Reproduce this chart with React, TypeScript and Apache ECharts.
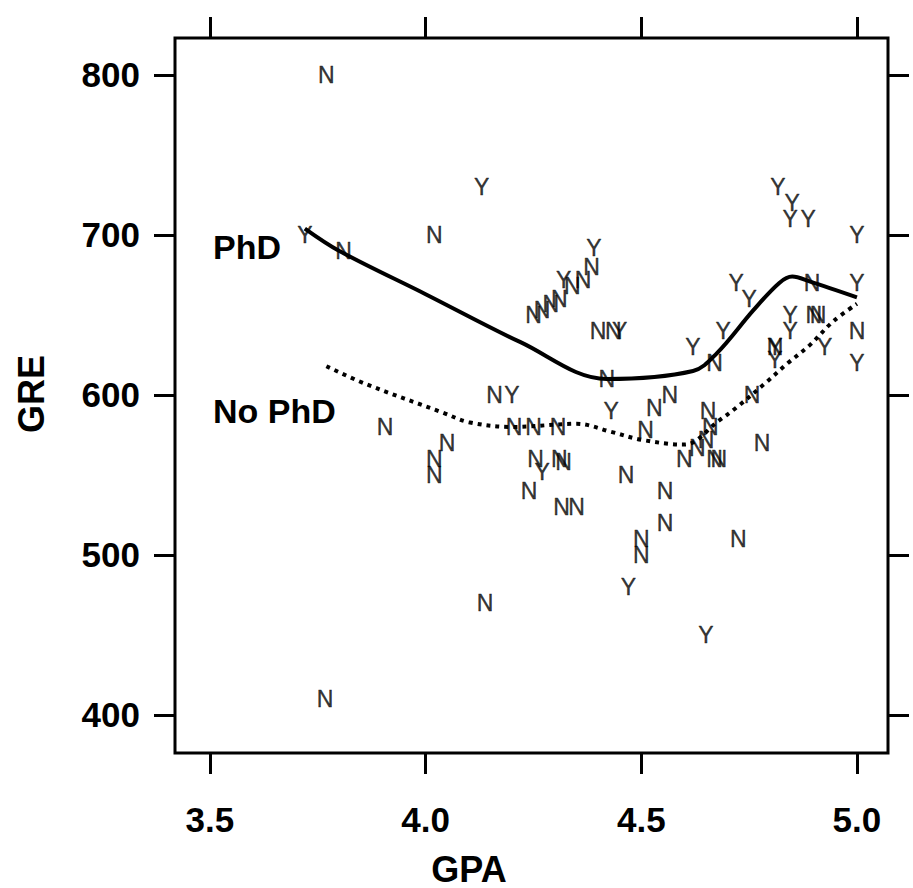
import React, { useEffect, useRef } from "react";
import * as echarts from "echarts";

// Axis ticks
const gpaTicks = [3.5, 4.0, 4.5, 5.0];
const greTicks = [400, 500, 600, 700, 800];

// Students who went on to a PhD ("Y")
const phdGpa = [3.72, 4.13, 4.32, 4.39, 4.45, 4.2, 4.27, 4.43, 4.47, 4.65, 4.62, 4.69, 4.72, 4.75, 4.817, 4.85, 4.845, 4.887, 5.0, 5.0, 4.845, 4.845, 4.925, 5.0, 4.81, 4.81];
const phdGre = [700, 730, 672, 692, 640, 600, 552, 590, 480, 450, 630, 640, 670, 660, 730, 720, 710, 710, 700, 670, 650, 640, 630, 620, 630, 622];

// Students who did not ("N")
const noPhdGpa = [3.77, 3.81, 4.02, 4.25, 4.27, 4.29, 4.31, 4.34, 4.365, 4.385, 4.4, 4.435, 4.42, 4.16, 4.205, 4.25, 4.307, 4.255, 4.31, 4.32, 4.24, 4.315, 4.35, 4.465, 4.5, 4.5, 4.555, 4.555, 4.51, 4.53, 4.566, 4.655, 4.66, 4.65, 4.63, 4.6, 4.67, 4.68, 4.78, 4.757, 4.725, 4.67, 4.81, 4.896, 4.9, 4.91, 5.0, 3.906, 4.02, 4.02, 4.05, 4.138, 3.767];
const noPhdGre = [800, 690, 700, 650, 653, 657, 660, 668, 672, 680, 640, 640, 610, 600, 580, 580, 580, 560, 560, 558, 540, 530, 530, 550, 510, 500, 540, 520, 578, 592, 600, 590, 580, 572, 567, 560, 560, 560, 570, 600, 510, 620, 630, 670, 650, 650, 640, 580, 560, 550, 570, 470, 410];

// Smooth curves
const phdCurveGpa = [3.72, 3.8, 4.0, 4.22, 4.42, 4.62, 4.675, 4.76, 4.82, 4.85, 4.89, 5.0];
const phdCurveGre = [704, 690, 663, 633, 610, 615, 626, 653, 670, 674, 671, 661];
const noPhdCurveGpa = [3.77, 3.86, 4.04, 4.1, 4.2, 4.35, 4.43, 4.5, 4.6, 4.68, 4.72, 4.79, 4.84, 4.89, 4.945, 5.0];
const noPhdCurveGre = [618, 607, 589, 583, 580, 582, 577, 572, 569, 584, 592, 608, 620, 631, 646, 657];

const zip = (a: number[], b: number[]) => a.map((v, i) => [v, b[i]]);

const FONT = "Liberation Sans, Arial, Helvetica, sans-serif";

export default function App() {
  const ref = useRef<HTMLDivElement>(null);
  useEffect(() => {
    if (!ref.current) return;
    const chart = echarts.init(ref.current, undefined, { renderer: "svg" });
    const xMin = 3.419;
    const xMax = 5.072;
    const yMin = 376.25;
    const yMax = 823.1;
    const tick = { show: true, length: 21, inside: false, lineStyle: { color: "#000", width: 3 } };
    const letterLabel = (t: string) => ({
      show: true,
      position: "inside",
      formatter: t,
      color: "#000",
      fontFamily: FONT,
      fontSize: 23,
      textBorderColor: "#000",
      textBorderWidth: 0.4,
    });
    chart.setOption({
      animation: false,
      backgroundColor: "#fff",
      grid: { left: 175, right: 25, top: 38, bottom: 135, show: true, borderColor: "#000", borderWidth: 3, backgroundColor: "transparent" },
      xAxis: [
        {
          type: "value", position: "bottom", min: xMin, max: xMax,
          axisLine: { show: false }, splitLine: { show: false },
          axisTick: { ...tick, customValues: gpaTicks },
          axisLabel: { customValues: gpaTicks, formatter: (v: number) => v.toFixed(1), margin: 49, color: "#000", fontFamily: FONT, fontWeight: "bold", fontSize: 35 },
        },
        {
          type: "value", position: "top", min: xMin, max: xMax,
          axisLine: { show: false }, splitLine: { show: false },
          axisTick: { ...tick, customValues: gpaTicks },
          axisLabel: { show: false, customValues: gpaTicks },
        },
      ],
      yAxis: [
        {
          type: "value", position: "left", min: yMin, max: yMax,
          axisLine: { show: false }, splitLine: { show: false },
          axisTick: { ...tick, customValues: greTicks },
          axisLabel: { customValues: greTicks, margin: 35, color: "#000", fontFamily: FONT, fontWeight: "bold", fontSize: 35 },
        },
        {
          type: "value", position: "right", min: yMin, max: yMax,
          axisLine: { show: false }, splitLine: { show: false },
          axisTick: { ...tick, customValues: greTicks },
          axisLabel: { show: false, customValues: greTicks },
        },
      ],
      graphic: [
        { type: "text", left: 213, top: 230, style: { text: "PhD", fill: "#000", font: `bold 34px ${FONT}` } },
        { type: "text", left: 213, top: 394, style: { text: "No PhD", fill: "#000", font: `bold 34px ${FONT}` } },
        { type: "text", x: 469, y: 869, style: { text: "GPA", fill: "#000", font: `bold 36px ${FONT}`, align: "center", verticalAlign: "middle" } },
        { type: "text", x: 31, y: 394, rotation: Math.PI / 2, style: { text: "GRE", fill: "#000", font: `bold 36px ${FONT}`, align: "center", verticalAlign: "middle" } },
      ],
      series: [
        {
          type: "line", name: "PhD curve", xAxisIndex: 0, yAxisIndex: 0,
          data: zip(phdCurveGpa, phdCurveGre), smooth: 0.35, showSymbol: false, symbol: "none",
          lineStyle: { color: "#000", width: 4 }, z: 3,
        },
        {
          type: "line", name: "No PhD curve", xAxisIndex: 0, yAxisIndex: 0,
          data: zip(noPhdCurveGpa, noPhdCurveGre), smooth: 0.35, showSymbol: false, symbol: "none",
          lineStyle: { color: "#000", width: 4, type: [4, 5] }, z: 3,
        },
        {
          type: "scatter", name: "Y", xAxisIndex: 0, yAxisIndex: 0,
          data: zip(phdGpa, phdGre), symbol: "circle", symbolSize: 1,
          itemStyle: { color: "rgba(0,0,0,0)" }, label: letterLabel("Y"), z: 4,
        },
        {
          type: "scatter", name: "N", xAxisIndex: 0, yAxisIndex: 0,
          data: zip(noPhdGpa, noPhdGre), symbol: "circle", symbolSize: 1,
          itemStyle: { color: "rgba(0,0,0,0)" }, label: letterLabel("N"), z: 4,
        },
      ],
    });
    return () => chart.dispose();
  }, []);
  return <div ref={ref} style={{ position: "fixed", left: 0, top: 0, width: 913, height: 888, background: "#fff" }} />;
}
